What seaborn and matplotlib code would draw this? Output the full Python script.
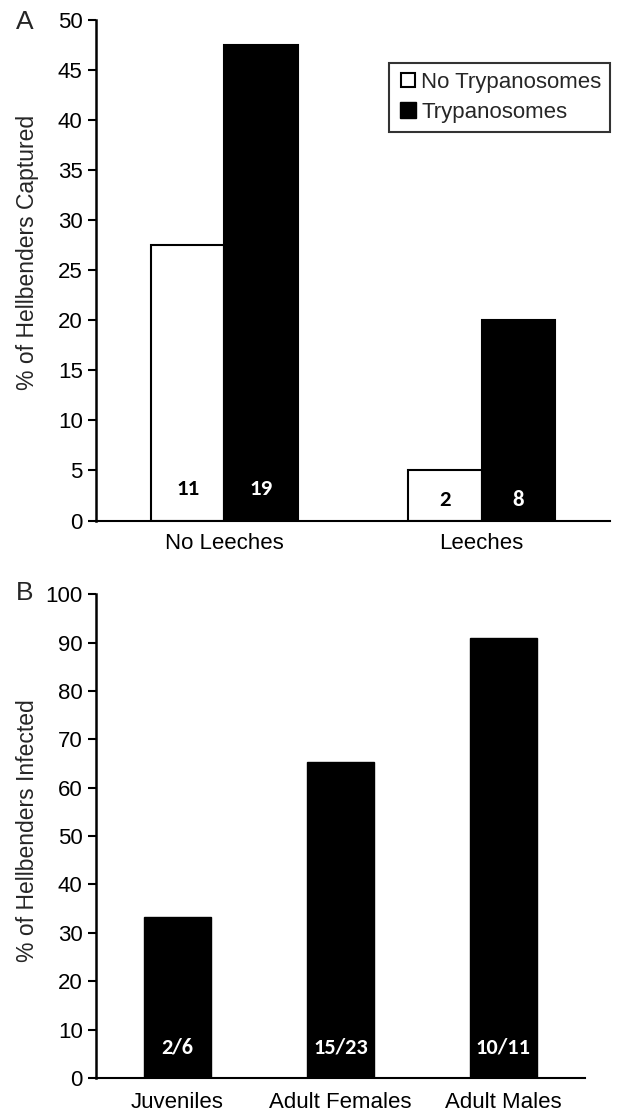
import pandas as pd
import matplotlib.pyplot as plt
import seaborn as sns
from matplotlib.lines import Line2D

# Panel A data
leech_groups = ["No Leeches", "No Leeches", "Leeches", "Leeches"]
tryp_status = ["No Trypanosomes", "Trypanosomes", "No Trypanosomes", "Trypanosomes"]
pct_captured = [27.5, 47.5, 5.0, 20.0]
counts_a = ["11", "19", "2", "8"]

# Panel B data
classes = ["Juveniles", "Adult Females", "Adult Males"]
pct_infected = [33.33, 65.22, 90.91]
counts_b = ["2/6", "15/23", "10/11"]

sns.set_style("white")
plt.rcParams["font.family"] = ["Liberation Sans", "DejaVu Sans"]
bold_fam = ["Carlito", "Lato", "Liberation Sans", "DejaVu Sans"]

fig = plt.figure(figsize=(6.35, 11.17), dpi=100)
ax_a = fig.add_axes([0.151, 0.534, 0.81, 0.448])
ax_b = fig.add_axes([0.151, 0.035, 0.77, 0.433])

df_a = pd.DataFrame({"group": leech_groups, "status": tryp_status,
                     "pct": pct_captured, "n": counts_a})
sns.barplot(data=df_a, x="group", y="pct", hue="status",
            palette={"No Trypanosomes": "white", "Trypanosomes": "black"},
            edgecolor="black", linewidth=1.5, width=0.57, gap=0,
            order=["No Leeches", "Leeches"], legend=False, ax=ax_a)

# count labels inside the bars
txt_y = {"No Leeches": 3.1, "Leeches": 2.1}
for bars, status in zip(ax_a.containers, ["No Trypanosomes", "Trypanosomes"]):
    sub = df_a[df_a.status == status].set_index("group").loc[["No Leeches", "Leeches"]]
    for bar, (grp, row) in zip(bars, sub.iterrows()):
        ax_a.text(bar.get_x() + bar.get_width() / 2, txt_y[grp], row["n"],
                  ha="center", va="center", fontsize=16.5, fontweight="bold",
                  color="white" if status == "Trypanosomes" else "black",
                  family=bold_fam)

ax_a.set_ylim(0, 50)
ax_a.set_yticks(range(0, 51, 5))
ax_a.set_ylabel("% of Hellbenders Captured", fontsize=16.5)
ax_a.yaxis.set_label_coords(-0.110, 0.535)
ax_a.set_xlabel("")

handles = [Line2D([], [], marker="s", ls="", markerfacecolor="white",
                  markeredgecolor="black", markersize=10, markeredgewidth=1.5),
           Line2D([], [], marker="s", ls="", markerfacecolor="black",
                  markeredgecolor="black", markersize=11)]
leg = ax_a.legend(handles, ["No Trypanosomes", "Trypanosomes"],
                  loc="upper right", bbox_to_anchor=(1.0, 0.914),
                  borderaxespad=0, fontsize=16, frameon=True, fancybox=False,
                  handletextpad=0.15, handlelength=0.9, borderpad=0.4,
                  labelspacing=0.4)
leg.get_frame().set_edgecolor("black")
leg.get_frame().set_linewidth(1.5)

df_b = pd.DataFrame({"cls": classes, "pct": pct_infected, "n": counts_b})
sns.barplot(data=df_b, x="cls", y="pct", color="black", edgecolor="black",
            width=0.41, ax=ax_b)
for bar, n in zip(ax_b.containers[0], df_b["n"]):
    ax_b.text(bar.get_x() + bar.get_width() / 2, 6.2, n, ha="center",
              va="center", fontsize=16, fontweight="bold", color="white",
              family=bold_fam)

ax_b.set_ylim(0, 100)
ax_b.set_yticks(range(0, 101, 10))
ax_b.set_ylabel("% of Hellbenders Infected", fontsize=16.5)
ax_b.yaxis.set_label_coords(-0.116, 0.512)
ax_b.set_xlabel("")

for ax, xpad in ((ax_a, 9), (ax_b, 10)):
    sns.despine(ax=ax)
    ax.spines["left"].set_linewidth(1.8)
    ax.spines["bottom"].set_linewidth(1.5)
    ax.spines["left"].set_color("black")
    ax.spines["bottom"].set_color("black")
    ax.tick_params(axis="y", direction="out", length=5.5, width=1.5,
                   left=True, labelsize=16, pad=4, colors="black")
    ax.tick_params(axis="x", length=0, labelsize=16, pad=xpad, colors="black")

fig.text(25 / 635, 1 - 22 / 1117, "A", fontsize=19, ha="center", va="center")
fig.text(25 / 635, 1 - 593 / 1117, "B", fontsize=19, ha="center", va="center")

fig.savefig("out.png", dpi=100)
